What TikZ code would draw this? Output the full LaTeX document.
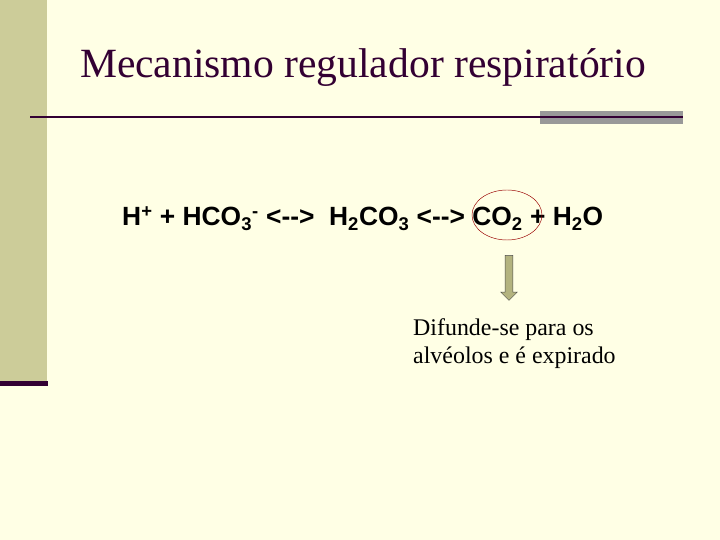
\documentclass[tikz,border=0pt]{standalone}
\usepackage{fontspec}
\setmainfont{Liberation Serif}
\setsansfont[Ligatures=NoCommon]{Liberation Sans}
\usetikzlibrary{shapes.arrows,shapes.geometric}
\definecolor{paper}{HTML}{FFFFE5}
\definecolor{sidebar}{HTML}{CCCC99}
\definecolor{plum}{HTML}{330033}
\definecolor{arrowfill}{HTML}{B3B37F}
\newcommand{\eqarrow}{<{-}{-}>}
\begin{document}
\begin{tikzpicture}[x=0.03cm,y=-0.03cm,
		title_style/.style={font=\fontsize{35.5}{40}\selectfont,text=plum},
		eq_style/.style={font=\sffamily\bfseries\fontsize{22.5}{26}\selectfont,anchor=base west,inner sep=0pt},
		note_style/.style={font=\fontsize{20.4}{24}\selectfont,align=left,anchor=north west,inner sep=0pt},
		down_style/.style={single arrow,shape border rotate=270,draw=black!70,fill=arrowfill,
			minimum height=1.35cm,minimum width=0.5cm,single arrow head extend=0.08cm,inner sep=0.06cm}]

		\fill[paper] (0,0) rectangle (720,540);
		\fill[sidebar] (0,0) rectangle (47,383);
		\fill[plum] (0,381) rectangle (48,386);
		\draw[plum,line width=1.2pt] (30,117) -- (540,117);
		\fill[black!40] (540,111) rectangle (683,124);
		\draw[plum,line width=1.2pt] (540,117) -- (683,117);

		\node[title_style] (title) at (363,68) {Mecanismo regulador respiratório};
		\node[eq_style] (eq) at (122,226) {H\textsuperscript{+} + HCO\textsubscript{3}\textsuperscript{-} \eqarrow\ \ H\textsubscript{2}CO\textsubscript{3} \eqarrow\ CO\textsubscript{2} + H\textsubscript{2}O};
		\node[draw=red!60!black,thin,ellipse,minimum width=2.1cm,minimum height=1.5cm] (ring) at (507,215) {};
		\node[down_style] (down) at (509,276) {};
		\node[note_style] (note) at (413,318) {Difunde-se para os\\alvéolos e é expirado};
		\end{tikzpicture}
\end{document}
